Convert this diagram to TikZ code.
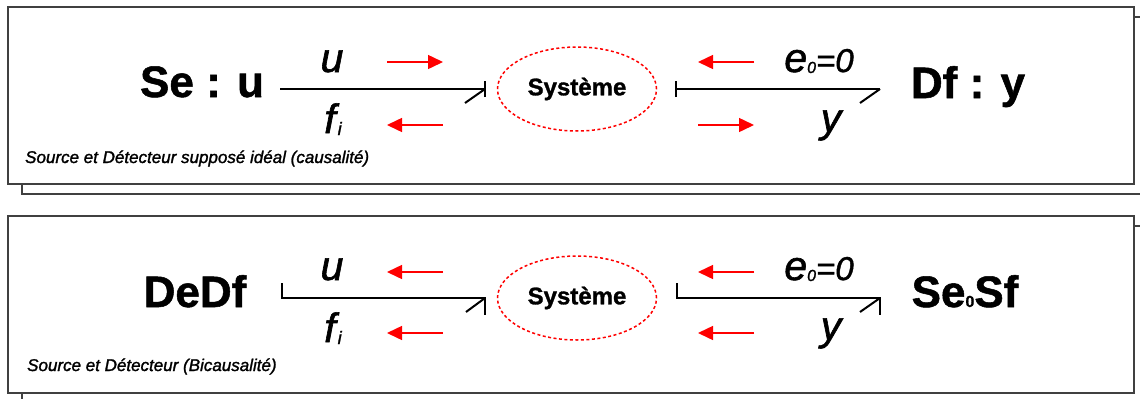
\documentclass[tikz,border=0pt]{standalone}
\usepackage{fontspec}
\setmainfont{Liberation Sans}
\newfontfamily\heavyfont{Liberation Sans}[ItalicFeatures={FakeBold=1.5}, BoldFeatures={FakeBold=1.2}]
\usetikzlibrary{arrows.meta,shapes.geometric}
\begin{document}
\begin{tikzpicture}[x=1pt,y=-1pt,
  frame/.style={draw=black!75, line width=1.2pt},
  bond/.style={draw=black, line width=2pt},
  flow/.style={draw=red, line width=1.5pt, -{Triangle[length=15pt,width=14pt]}},
  sys/.style={ellipse, draw=red, line width=1.5pt, dash pattern=on 3pt off 2.5pt,
    minimum width=159pt, minimum height=84pt, inner sep=0pt,
    font=\heavyfont\fontsize{24}{28}\selectfont\bfseries},
  big/.style={anchor=base, inner sep=0pt, font=\heavyfont\fontsize{44}{50}\selectfont\bfseries},
  lab/.style={anchor=base, inner sep=0pt, font=\heavyfont\fontsize{41}{46}\selectfont\itshape},
  note/.style={anchor=base west, inner sep=0pt, font=\heavyfont\fontsize{17}{20}\selectfont\itshape}
]
\useasboundingbox (0,0) rectangle (1140,399);

% frames
\draw[frame] (8,7) rectangle (1134,184);
\draw[frame] (22,184) -- (22,194) -- (1140,194);
\draw[frame] (1134,17) -- (1140,17);
\draw[frame] (8,216) rectangle (1134,393);
\draw[frame] (22,393) -- (22,399);
\draw[frame] (1134,226) -- (1140,226);

% ===== top row =====
\node[big] (seu) at (202,97) {Se : u};
\node[big] (dfy) at (968,98) {Df : y};
\node[sys] (sys1) at (577,89) {Système};

\coordinate (a1s) at (280,89);
\coordinate (a1e) at (485,89);
\coordinate (a1h) at (465,103);
\draw[bond] (a1s) -- (a1e);
\draw[bond] ([yshift=-8pt]a1e) -- ([yshift=8pt]a1e);
\draw[bond] (a1e) -- (a1h);

\coordinate (a2s) at (676,89);
\coordinate (a2e) at (880,89);
\coordinate (a2h) at (860,103);
\draw[bond] (a2s) -- (a2e);
\draw[bond] ([yshift=-8pt]a2s) -- ([yshift=8pt]a2s);
\draw[bond] (a2e) -- (a2h);

\node[lab] (u1) at (332,72) {u};
\node[lab] (f1) at (333,133) {f\kern2pt\raisebox{-2pt}{\fontsize{18}{20}\selectfont i}};
\node[lab] (e1) at (819,72) {e\raisebox{-1pt}{\fontsize{16}{18}\selectfont 0}\fontsize{33}{36}\selectfont =0};
\node[lab] (y1) at (831,132) {y};

\coordinate (r1a) at (387,62); \coordinate (r1b) at (443,62);
\coordinate (r2a) at (443,125); \coordinate (r2b) at (387,125);
\coordinate (r3a) at (754,62); \coordinate (r3b) at (698,62);
\coordinate (r4a) at (698,125); \coordinate (r4b) at (754,125);
\draw[flow] (r1a) -- (r1b);
\draw[flow] (r2a) -- (r2b);
\draw[flow] (r3a) -- (r3b);
\draw[flow] (r4a) -- (r4b);

\node[note] (n1) at (25,163) {Source et Détecteur supposé idéal (causalité)};

% ===== bottom row =====
\node[big] (dedf) at (195,307) {DeDf};
\node[big] (sesf) at (965,307) {Se\fontsize{16}{18}\selectfont 0\fontsize{44}{50}\selectfont Sf};
\node[sys] (sys2) at (577,298) {Système};

\coordinate (b1s) at (282,298);
\coordinate (b1e) at (485,298);
\coordinate (b1h) at (466,312);
\draw[bond] ([yshift=15pt]b1s) -- (b1s) -- (b1e) -- ([yshift=-17pt]b1e);
\draw[bond] (b1e) -- (b1h);

\coordinate (b2s) at (677,298);
\coordinate (b2e) at (880,298);
\coordinate (b2h) at (860,312);
\draw[bond] ([yshift=15pt]b2s) -- (b2s) -- (b2e) -- ([yshift=-17pt]b2e);
\draw[bond] (b2e) -- (b2h);

\node[lab] (u2) at (332,280) {u};
\node[lab] (f2) at (333,342) {f\kern2pt\raisebox{-2pt}{\fontsize{18}{20}\selectfont i}};
\node[lab] (e2) at (819,280) {e\raisebox{-1pt}{\fontsize{16}{18}\selectfont 0}\fontsize{33}{36}\selectfont =0};
\node[lab] (y2) at (831,340) {y};

\coordinate (s1a) at (443,272); \coordinate (s1b) at (387,272);
\coordinate (s2a) at (443,333); \coordinate (s2b) at (387,333);
\coordinate (s3a) at (754,272); \coordinate (s3b) at (698,272);
\coordinate (s4a) at (754,333); \coordinate (s4b) at (698,333);
\draw[flow] (s1a) -- (s1b);
\draw[flow] (s2a) -- (s2b);
\draw[flow] (s3a) -- (s3b);
\draw[flow] (s4a) -- (s4b);

\node[note] (n2) at (27,371) {Source et Détecteur (Bicausalité)};
\end{tikzpicture}
\end{document}
